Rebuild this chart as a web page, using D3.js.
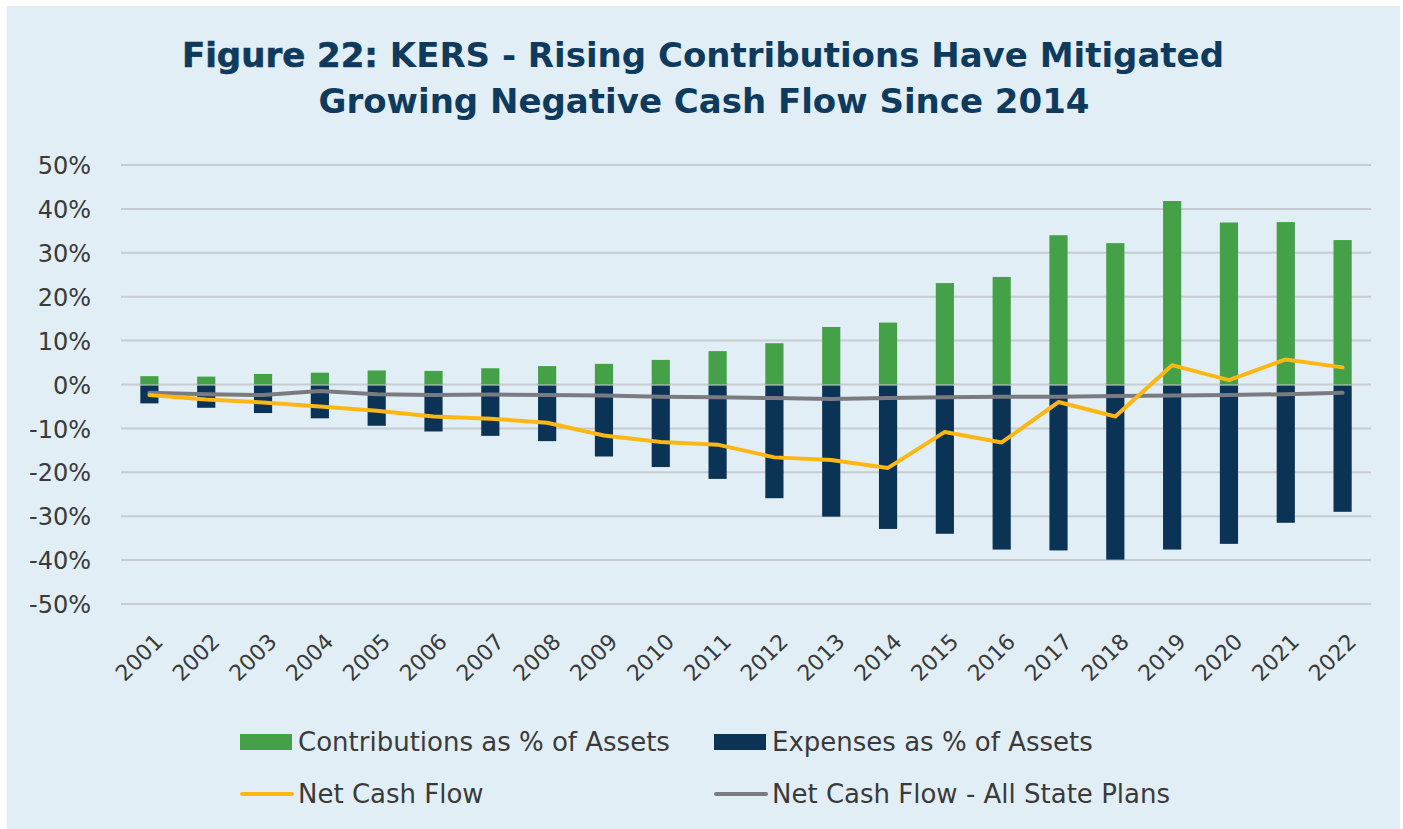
<!DOCTYPE html>
<html>
<head>
<meta charset="utf-8">
<script src="https://cdn.jsdelivr.net/npm/d3@7"></script>
<style>
    html, body { margin: 0; padding: 0; background: #ffffff; }
    svg { display: block; }
    .yTick { font-family: "DejaVu Sans", sans-serif; font-size: 24px; fill: #3a3a3a; }
    .xTick { font-family: "DejaVu Sans", sans-serif; font-size: 22px; fill: #3a3a3a; }
    .legendText { font-family: "DejaVu Sans", sans-serif; font-size: 26px; fill: #3a3a3a; }
    .title { font-family: "DejaVu Sans", sans-serif; font-size: 34px; font-weight: 700; fill: #0e3a5e; }
</style>
</head>
<body>
<div id="chart"></div>
<script>
// Data
var years = ["2001", "2002", "2003", "2004", "2005", "2006", "2007", "2008", "2009", "2010", "2011",
    "2012", "2013", "2014", "2015", "2016", "2017", "2018", "2019", "2020", "2021", "2022"];
var contributions = [1.9, 1.8, 2.4, 2.7, 3.2, 3.1, 3.7, 4.2, 4.7, 5.6, 7.6,
    9.4, 13.1, 14.1, 23.1, 24.5, 34.0, 32.2, 41.8, 36.9, 37.0, 32.9];
var expenses = [-4.3, -5.3, -6.5, -7.7, -9.4, -10.7, -11.7, -12.9, -16.4, -18.8, -21.5,
    -25.9, -30.1, -32.9, -34.0, -37.6, -37.8, -39.9, -37.6, -36.3, -31.5, -29.0];
var netCashFlow = [-2.4, -3.4, -4.1, -5.0, -6.0, -7.3, -7.8, -8.7, -11.6, -13.1, -13.7,
    -16.6, -17.2, -19.0, -10.8, -13.2, -4.0, -7.3, 4.4, 1.0, 5.7, 3.9];
var netAllPlans = [-1.9, -2.2, -2.4, -1.5, -2.2, -2.4, -2.3, -2.4, -2.5, -2.8, -2.9,
    -3.1, -3.3, -3.1, -2.9, -2.8, -2.8, -2.6, -2.5, -2.4, -2.2, -1.9];
var yTicks = [-50, -40, -30, -20, -10, 0, 10, 20, 30, 40, 50];
var titleLines = ["KERS - Rising Contributions Have Mitigated", "Growing Negative Cash Flow Since 2014"];

var svgWidth = 1403;
var svgHeight = 829;
var plot = { left: 121, right: 1371, top: 165, bottom: 604 };

var colors = {
    bg: "#e2eef5",
    green: "#44a147",
    navy: "#0b3356",
    yellow: "#fdb714",
    gray: "#7a7b80",
    grid: "#c6ccd1"
};

var svg = d3.select("#chart")
    .append("svg")
    .attr("width", svgWidth)
    .attr("height", svgHeight);

// Background panel
svg.append("rect")
    .attr("x", 7)
    .attr("y", 6)
    .attr("width", 1393)
    .attr("height", 823)
    .attr("fill", colors.bg);

// Title
var title = svg.append("text")
    .attr("class", "title")
    .attr("text-anchor", "middle")
    .attr("x", 703)
    .attr("y", 67);

title.append("tspan")
    .attr("stroke", "#0e3a5e")
    .attr("stroke-width", 0.6)
    .text("Figure 22: ");
title.append("tspan")
    .text(titleLines[0]);

svg.append("text")
    .attr("class", "title")
    .attr("text-anchor", "middle")
    .attr("x", 704)
    .attr("y", 113)
    .text(titleLines[1]);

// Scales
var xScale = d3.scaleBand()
    .domain(years)
    .range([plot.left, plot.right])
    .paddingInner(0.68)
    .paddingOuter(0.34);

var yScale = d3.scaleLinear()
    .domain([-50, 50])
    .range([plot.bottom, plot.top]);

// Gridlines
svg.append("g")
    .selectAll("line")
    .data(yTicks)
    .enter()
    .append("line")
    .attr("x1", plot.left)
    .attr("x2", plot.right)
    .attr("y1", d => yScale(d))
    .attr("y2", d => yScale(d))
    .attr("stroke", colors.grid)
    .attr("stroke-width", 2);

// Y axis labels
var yAxis = d3.axisLeft(yScale)
    .tickValues(yTicks)
    .tickSize(0)
    .tickPadding(0)
    .tickFormat(d => d + "%");

var yAxisG = svg.append("g")
    .attr("transform", "translate(91, 0)")
    .call(yAxis);
yAxisG.select(".domain").remove();
yAxisG.selectAll("text")
    .attr("class", "yTick")
    .attr("dy", "0.36em")
    .attr("font-size", null)
    .attr("font-family", null);

// Bars
svg.append("g")
    .selectAll("rect")
    .data(years)
    .enter()
    .append("rect")
    .attr("x", d => xScale(d))
    .attr("y", (d, i) => yScale(contributions[i]))
    .attr("width", xScale.bandwidth())
    .attr("height", (d, i) => yScale(0) - yScale(contributions[i]))
    .attr("fill", colors.green);

svg.append("g")
    .selectAll("rect")
    .data(years)
    .enter()
    .append("rect")
    .attr("x", d => xScale(d))
    .attr("y", yScale(0) + 1)
    .attr("width", xScale.bandwidth())
    .attr("height", (d, i) => yScale(expenses[i]) - yScale(0) - 1)
    .attr("fill", colors.navy);

// Lines
var lineGen = d3.line()
    .x((d, i) => xScale(years[i]) + xScale.bandwidth() / 2)
    .y(d => yScale(d));

svg.append("path")
    .datum(netAllPlans)
    .attr("d", lineGen)
    .attr("fill", "none")
    .attr("stroke", colors.gray)
    .attr("stroke-width", 4)
    .attr("stroke-linejoin", "round")
    .attr("stroke-linecap", "round");

svg.append("path")
    .datum(netCashFlow)
    .attr("d", lineGen)
    .attr("fill", "none")
    .attr("stroke", colors.yellow)
    .attr("stroke-width", 4)
    .attr("stroke-linejoin", "round")
    .attr("stroke-linecap", "round");

// X axis labels (rotated)
var xAxis = d3.axisBottom(xScale)
    .tickSize(0)
    .tickPadding(0);

var xAxisG = svg.append("g")
    .attr("transform", `translate(0, ${plot.bottom})`)
    .call(xAxis);
xAxisG.select(".domain").remove();
xAxisG.selectAll("text")
    .attr("class", "xTick")
    .attr("font-size", null)
    .attr("font-family", null)
    .attr("text-anchor", "end")
    .attr("y", 0)
    .attr("dy", 0)
    .attr("transform", "translate(15, 39) rotate(-45)");

// Legend
var legendItems = [
    { label: "Contributions as % of Assets", color: colors.green, type: "rect", x: 240, y: 742 },
    { label: "Expenses as % of Assets", color: colors.navy, type: "rect", x: 714, y: 742 },
    { label: "Net Cash Flow", color: colors.yellow, type: "line", x: 240, y: 794 },
    { label: "Net Cash Flow - All State Plans", color: colors.gray, type: "line", x: 714, y: 794 }
];

var legend = svg.append("g")
    .selectAll("g")
    .data(legendItems)
    .enter()
    .append("g")
    .attr("transform", d => `translate(${d.x}, ${d.y})`);

legend.filter(d => d.type === "rect")
    .append("rect")
    .attr("x", 0)
    .attr("y", -8)
    .attr("width", 52)
    .attr("height", 16)
    .attr("fill", d => d.color);

legend.filter(d => d.type === "line")
    .append("line")
    .attr("x1", 2)
    .attr("x2", 52)
    .attr("y1", 0)
    .attr("y2", 0)
    .attr("stroke", d => d.color)
    .attr("stroke-width", 4)
    .attr("stroke-linecap", "round");

legend.append("text")
    .attr("class", "legendText")
    .attr("x", 58)
    .attr("y", 9)
    .text(d => d.label);
</script>
</body>
</html>
